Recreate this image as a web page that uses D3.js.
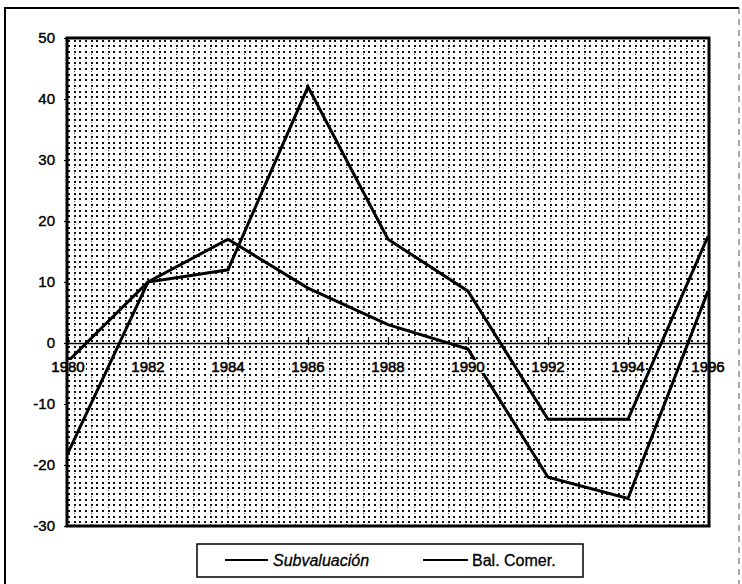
<!DOCTYPE html>
<html>
<head>
<meta charset="utf-8">
<script src="https://cdn.jsdelivr.net/npm/d3@7"></script>
<style>
  html, body { margin: 0; padding: 0; background: #fff; }
  svg { display: block; }
  text { font-family: "Liberation Sans", Arial, sans-serif; fill: #000; }
</style>
</head>
<body>
<svg id="chart" width="742" height="584"></svg>
<script>
// Years on the category axis
const years = [1980, 1982, 1984, 1986, 1988, 1990, 1992, 1994, 1996];
// Series values (percent)
const subvaluacion = [-18, 10, 12, 42, 17, 8.5, -12.5, -12.5, 17.5];
const balComer = [-3, 10, 17, 9, 3, -1, -22, -25.5, 8.5];
const seriesNames = ["Subvaluación", "Bal. Comer."];
const yTicks = [50, 40, 30, 20, 10, 0, -10, -20, -30];

const svg = d3.select("#chart");
const plot = { left: 68, right: 708, top: 38, bottom: 526 };

const x = d3.scaleLinear().domain([1980, 1996]).range([plot.left, plot.right]);
const y = d3.scaleLinear().domain([-30, 50]).range([plot.bottom, plot.top]);

// Dotted fill for the plot area
const defs = svg.append("defs");
const pat = defs.append("pattern")
  .attr("id", "dots").attr("patternUnits", "userSpaceOnUse")
  .attr("width", 17).attr("height", 17);
pat.append("rect").attr("width", 17).attr("height", 17).attr("fill", "#fff");
[0, 6, 11].forEach(px => [0, 6, 11].forEach(py => {
  pat.append("rect").attr("x", px).attr("y", py)
    .attr("width", 2).attr("height", 2).attr("fill", "#111");
}));
[3, 14].forEach(py => {
  pat.append("rect").attr("x", 6).attr("y", py)
    .attr("width", 1).attr("height", 1).attr("fill", "#444");
});

// Outer frame
svg.append("path")
  .attr("d", "M739,8 L5,8 L5,590")
  .attr("fill", "none").attr("stroke", "#000").attr("stroke-width", 2);
svg.append("line")
  .attr("x1", 739).attr("x2", 739).attr("y1", 8).attr("y2", 590)
  .attr("stroke", "#555").attr("stroke-width", 1).attr("stroke-dasharray", "6,5");

// Plot background
svg.append("rect")
  .attr("x", plot.left).attr("y", plot.top)
  .attr("width", plot.right - plot.left).attr("height", plot.bottom - plot.top)
  .attr("fill", "url(#dots)");

// Series lines
const line = d3.line().x((d, i) => x(years[i])).y(d => y(d));
[subvaluacion, balComer].forEach(vals => {
  svg.append("path").datum(vals)
    .attr("d", line)
    .attr("fill", "none").attr("stroke", "#000")
    .attr("stroke-width", 3).attr("stroke-linejoin", "miter");
});

// Category axis crossing at zero (line and ticks only)
const xAxis = d3.axisBottom(x).tickValues(years).tickFormat("")
  .tickSizeInner(-6).tickSizeOuter(0);
const gx = svg.append("g").attr("transform", `translate(0,${y(0)})`).call(xAxis);
gx.select(".domain").attr("stroke", "#000").attr("stroke-width", 1.5);
gx.selectAll(".tick line").attr("stroke", "#000").attr("stroke-width", 1.2)
  .attr("y2", -6).attr("y1", 2);

// Category labels with opaque backing
const labels = svg.append("g");
const lab = labels.selectAll("g").data(years).join("g")
  .attr("transform", d => `translate(${x(d)},${y(0) + 29})`);
lab.append("rect")
  .attr("x", -18).attr("y", -12).attr("width", 36).attr("height", 13)
  .attr("fill", "#fff");
lab.append("text")
  .attr("text-anchor", "middle")
  .style("font-size", "15px")
  .style("fill", "#000")
  .attr("stroke", "#000").attr("stroke-width", 0.6)
  .text(d => d);

// Value axis (plain hyphen for negatives)
const yAxis = d3.axisLeft(y).tickValues(yTicks).tickFormat(d => String(d))
  .tickSize(4).tickPadding(9);
const gy = svg.append("g").attr("transform", `translate(${plot.left},0)`).call(yAxis);
gy.select(".domain").remove();
gy.selectAll(".tick line").attr("stroke", "#000").attr("stroke-width", 1.2);
gy.selectAll(".tick text")
  .style("font-size", "15px")
  .attr("stroke", "#000").attr("stroke-width", 0.4);

// Plot border
svg.append("rect")
  .attr("x", plot.left - 1).attr("y", plot.top)
  .attr("width", plot.right - plot.left + 2).attr("height", plot.bottom - plot.top)
  .attr("fill", "none").attr("stroke", "#000").attr("stroke-width", 3);

// Legend
const lg = svg.append("g");
lg.append("rect")
  .attr("x", 197).attr("y", 544).attr("width", 386).attr("height", 33)
  .attr("fill", "#fff").attr("stroke", "#000").attr("stroke-width", 1.5);
const items = [
  { x1: 225, x2: 268, tx: 273, italic: true },
  { x1: 423, x2: 468, tx: 472, italic: false }
];
items.forEach((it, i) => {
  lg.append("line").attr("x1", it.x1).attr("x2", it.x2).attr("y1", 560).attr("y2", 560)
    .attr("stroke", "#000").attr("stroke-width", 2);
  lg.append("text").attr("x", it.tx).attr("y", 566)
    .style("font-size", "16px")
    .style("font-style", it.italic ? "italic" : "normal")
    .attr("stroke", "#000").attr("stroke-width", 0.3)
    .text(seriesNames[i]);
});
</script>
</body>
</html>
